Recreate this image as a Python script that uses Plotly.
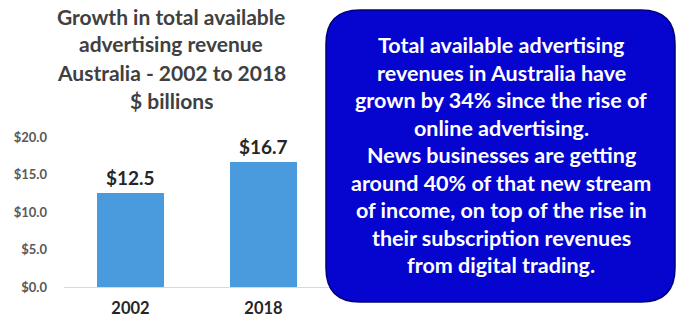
import plotly.graph_objects as go

# Chart data
years = ["2002", "2018"]
revenue = [12.5, 16.7]
y_ticks = [0, 5, 10, 15, 20]
y_tick_labels = ["$0.0", "$5.0", "$10.0", "$15.0", "$20.0"]

title_lines = [
    "Growth in total available",
    "advertising revenue",
    "Australia - 2002 to 2018",
    "$ billions",
]
note_lines = [
    "Total available advertising",
    "revenues in Australia have",
    "grown by 34% since the rise of",
    "online advertising.",
    "News businesses are getting",
    "around 40% of that new stream",
    "of income, on top of the rise in",
    "their subscription revenues",
    "from digital trading.",
]

W, H = 676, 323
ML, MR, MT, MB = 64, 346, 137, 36
PW = W - ML - MR
PH = H - MT - MB
FONT = "Lato"


def px(x):
    """pixel x -> paper x"""
    return (x - ML) / PW


def py(y):
    """pixel y (from top) -> paper y"""
    return (H - MB - y) / PH


fig = go.Figure()
fig.add_trace(go.Bar(
    x=years,
    y=revenue,
    width=0.5,
    marker=dict(color="#4a9ade", line=dict(width=0)),
    hoverinfo="skip",
))

annotations = []
# value labels above bars (category index positions)
for i, v in enumerate(revenue):
    annotations.append(dict(
        x=i, y=v, xref="x", yref="y",
        text=f"${v:.1f}", showarrow=False,
        yanchor="bottom", yshift=2,
        font=dict(family=FONT, size=19, color="#262626", weight="bold"),
    ))

# title, one line at a time
for i, line in enumerate(title_lines):
    annotations.append(dict(
        x=px(171), y=py(16 + i * 28), xref="paper", yref="paper",
        text=line, showarrow=False, xanchor="center", yanchor="middle",
        font=dict(family=FONT, size=21, color="#404040", weight="bold"),
    ))

# note text inside the rounded box
for i, line in enumerate(note_lines):
    annotations.append(dict(
        x=px(501), y=py(45 + i * 27.5), xref="paper", yref="paper",
        text=line, showarrow=False, xanchor="center", yanchor="middle",
        font=dict(family=FONT, size=21.5, color="white", weight="bold"),
    ))

# rounded rectangle behind the note
x0, x1, y0, y1, r = 326, 675, 10, 302, 34
path = (
    f"M {px(x0 + r)} {py(y0)} L {px(x1 - r)} {py(y0)} "
    f"Q {px(x1)} {py(y0)} {px(x1)} {py(y0 + r)} "
    f"L {px(x1)} {py(y1 - r)} Q {px(x1)} {py(y1)} {px(x1 - r)} {py(y1)} "
    f"L {px(x0 + r)} {py(y1)} Q {px(x0)} {py(y1)} {px(x0)} {py(y1 - r)} "
    f"L {px(x0)} {py(y0 + r)} Q {px(x0)} {py(y0)} {px(x0 + r)} {py(y0)} Z"
)
shapes = [dict(
    type="path", path=path, xref="paper", yref="paper",
    fillcolor="#0505cf", line=dict(color="#00007a", width=1.5), layer="above",
)]

fig.update_layout(
    width=W, height=H,
    margin=dict(l=ML, r=MR, t=MT, b=MB, pad=0, autoexpand=False),
    paper_bgcolor="white", plot_bgcolor="white",
    showlegend=False,
    annotations=annotations,
    shapes=shapes,
    bargap=0,
    xaxis=dict(
        type="category", automargin=False,
        range=[-0.5, 1.5], showgrid=False, zeroline=False,
        showline=True, linecolor="#d9d9d9", linewidth=1,
        ticks="", ticklabelstandoff=6,
        tickfont=dict(family=FONT, size=16.5, color="#262626", weight="bold"),
        fixedrange=True,
    ),
    yaxis=dict(
        automargin=False,
        range=[0, 20], tickvals=y_ticks, ticktext=y_tick_labels,
        showgrid=False, zeroline=False, showline=False, ticks="",
        ticklabelstandoff=16,
        tickfont=dict(family=FONT, size=13, color="#595959", weight="bold"),
        fixedrange=True,
    ),
)

fig.write_html("out.html", config={"displayModeBar": False})
